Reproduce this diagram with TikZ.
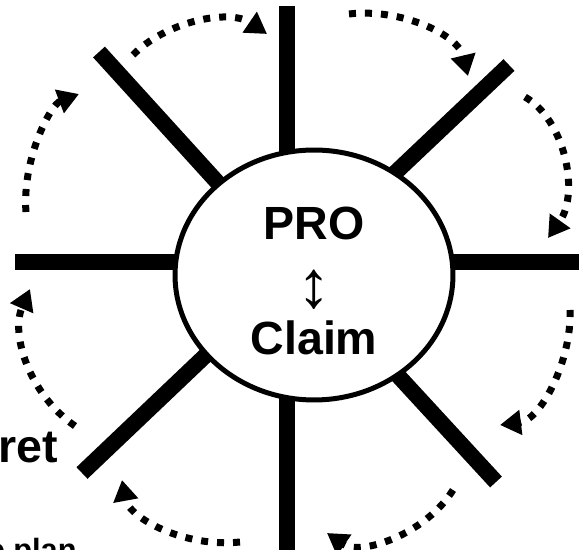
\documentclass[tikz,border=0pt]{standalone}
\usepackage{fontspec}
\setmainfont{Liberation Sans}
\usetikzlibrary{arrows.meta, shapes.geometric}

\begin{document}
\begin{tikzpicture} [x = 0.02cm, y = -0.02cm,
  spoke/.style = {line width = 0.32cm},
  turn/.style = {line width = 0.14cm, dash pattern = on 0.14cm off 0.18cm,
    -{Triangle[length = 0.42cm, width = 0.48cm]}},
  big/.style = {font = \bfseries\fontsize{26.5}{32.7}\selectfont, inner sep = 0pt}]
\useasboundingbox (0,0) rectangle (579,550);
\clip (0,0) rectangle (579,550);
% spokes: outer end n, inner end m (hidden under the hub)
\coordinate (n1) at (287,6);   \coordinate (m1) at (287,200);
\coordinate (n2) at (509,65);  \coordinate (m2) at (376,191);
\coordinate (n3) at (590,262); \coordinate (m3) at (430,262);
\coordinate (n4) at (496,482); \coordinate (m4) at (380,356);
\coordinate (n5) at (287,560); \coordinate (m5) at (287,350);
\coordinate (n6) at (82,473);  \coordinate (m6) at (225,337);
\coordinate (n7) at (15,262);  \coordinate (m7) at (200,262);
\coordinate (n8) at (99,52);   \coordinate (m8) at (238,205);
\foreach \i in {1,...,8}
  \draw[spoke] (m\i) -- (n\i);
\node[draw, ellipse, fill = white, line width = 0.1cm, minimum width = 5.56cm, minimum height = 5cm] (hub) at (314,275) {};
\node[big, align = center] (claim) at (314,281)
  {PRO\\\smash{\raisebox{-0.21cm}{\mdseries\fontsize{38}{32.7}\selectfont ↕}}\\Claim};
% dotted turns between the spokes
\coordinate (a1) at (133,55);  \coordinate (b1) at (267,34);
\coordinate (a2) at (349,14);  \coordinate (b2) at (468,76);
\coordinate (a3) at (525,97);  \coordinate (b3) at (548,238);
\coordinate (a4) at (570,310); \coordinate (b4) at (500,425);
\coordinate (a5) at (453,490); \coordinate (b5) at (327,533);
\coordinate (a6) at (240,542); \coordinate (b6) at (122,480);
\coordinate (a7) at (75,426);  \coordinate (b7) at (30,289);
\coordinate (a8) at (26,212);  \coordinate (b8) at (79,94);
\draw[turn] (a1) .. controls (165,22) and (229,8) .. (b1);
\draw[turn] (a2) .. controls (400,8) and (458,34) .. (b2);
\draw[turn] (a3) .. controls (565,120) and (580,193) .. (b3);
\draw[turn] (a4) .. controls (572,360) and (541,420) .. (b4);
\draw[turn] (a5) .. controls (425,535) and (360,556) .. (b5);
\draw[turn] (a6) .. controls (185,548) and (129,518) .. (b6);
\draw[turn] (a7) .. controls (30,395) and (10,335) .. (b7);
\draw[turn] (a8) .. controls (22,160) and (50,105) .. (b8);
% labels cut by the frame
\node[big, anchor = base east] (ret) at (58,463) {ret};
\node[font = \bfseries\fontsize{17.5}{21}\selectfont, inner sep = 0pt, anchor = base east] (plan) at (77,561) {e plan};
\end{tikzpicture}
\end{document}
